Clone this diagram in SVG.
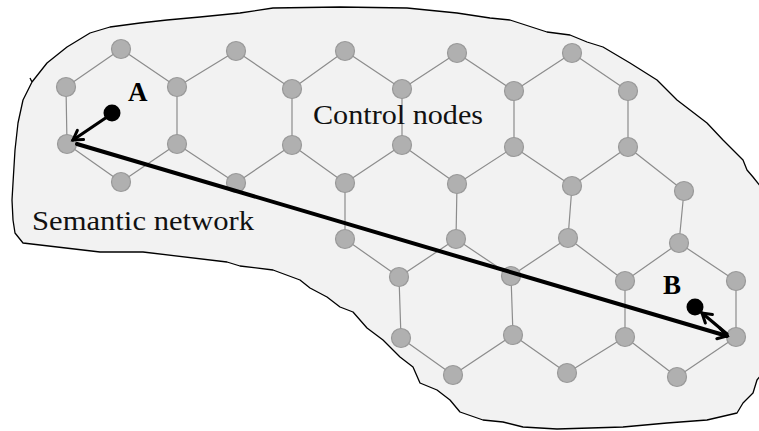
<svg xmlns="http://www.w3.org/2000/svg" width="759" height="431" viewBox="0 0 759 431">
<defs>
<style>
.blob{fill:#f2f2f2;stroke:#000;stroke-width:1.3;stroke-linejoin:round}
.e{stroke:#8c8c8c;stroke-width:1.2;fill:none}
.n{fill:#b0b0b0;stroke:#999;stroke-width:1.2}
.dot{fill:#000}
.arr{stroke:#000;fill:none;stroke-linecap:round}
.lbl{font-family:"Liberation Serif","DejaVu Serif",serif;fill:#111}
.bold{font-family:"Liberation Serif","DejaVu Serif",serif;font-weight:bold;fill:#000}
</style>
<marker id="ah" markerUnits="userSpaceOnUse" viewBox="-12 -8 14 16" markerWidth="14" markerHeight="16" refX="0" refY="0" orient="auto" overflow="visible">
<path d="M -9 -5.5 L 0 0 L -9 5.5" fill="none" stroke="#000" stroke-width="3" stroke-linecap="round" stroke-linejoin="miter"/>
</marker>
</defs>
<rect width="759" height="431" fill="#fff"/>
<g id="region">
<path class="blob" d="M 32 82 L 30 78 M 32 82 L 47 63 L 67 47 L 90 33 L 110 27 L 140 23 L 167 20 L 200 17 L 240 13 L 273 8 L 340 7 L 407 8 L 457 13 L 490 18 L 510 20 L 547 32 L 570 35 L 587 42 L 603 47 L 630 63 L 657 80 L 677 100 L 707 123 L 723 140 L 743 160 L 747 170 L 753 177 L 765 192 L 765 370 L 757 380 L 753 393 L 743 403 L 737 413 L 707 420 L 667 423 L 623 427 L 557 429 L 523 427 L 503 422 L 483 420 L 460 412 L 450 400 L 437 390 L 420 383 L 413 367 L 400 357 L 383 340 L 367 328 L 353 312 L 340 307 L 327 297 L 310 288 L 300 280 L 273 270 L 240 266 L 227 262 L 143 252 L 100 252 L 23 243 L 15 233 L 13 220 L 12 200 L 13 183 L 15 150 L 18 123 L 23 100 Z"/>
</g>
<g id="edges">
<path class="e" d="M121 49 L66 87 M121 49 L177 87 M66 87 L67 144 M177 87 L177 144 M67 144 L121 182 M177 144 L121 182
M236 51 L177 87 M236 51 L292 89 M292 89 L292 145 M177 144 L236 183 M292 145 L236 183
M345 51 L292 89 M345 51 L402 89 M402 89 L402 145 M292 145 L345 183 M402 145 L345 183
M457 53 L402 89 M457 53 L514 91 M514 91 L514 147 M402 145 L457 184 M514 147 L457 184
M572 53 L514 91 M572 53 L628 91 M628 91 L628 147 M514 147 L572 186 M628 147 L572 186
M628 147 L684 191
M345 183 L345 239 M457 184 L456 239 M572 186 L568 238 M684 191 L679 243
M345 239 L399 277 M456 239 L399 277 M456 239 L511 276 M568 238 L511 276 M568 238 L625 281 M679 243 L625 281 M679 243 L736 281
M399 277 L401 338 M511 276 L513 335 M625 281 L625 337 M736 281 L736 337
M401 338 L453 375 M453 375 L513 335 M513 335 L567 373 M567 373 L625 337 M625 337 L677 377 M677 377 L736 337"/>
</g>
<g id="nodes">
<circle id="n-a1" class="n" cx="121" cy="49" r="9.5"/>
<circle id="n-a2" class="n" cx="236" cy="51" r="9.5"/>
<circle id="n-a3" class="n" cx="345" cy="51" r="9.5"/>
<circle id="n-a4" class="n" cx="457" cy="53" r="9.5"/>
<circle id="n-a5" class="n" cx="572" cy="53" r="9.5"/>
<circle id="n-b0" class="n" cx="66" cy="87" r="9.5"/>
<circle id="n-b1" class="n" cx="177" cy="87" r="9.5"/>
<circle id="n-b2" class="n" cx="292" cy="89" r="9.5"/>
<circle id="n-b3" class="n" cx="402" cy="89" r="9.5"/>
<circle id="n-b4" class="n" cx="514" cy="91" r="9.5"/>
<circle id="n-b5" class="n" cx="628" cy="91" r="9.5"/>
<circle id="n-c0" class="n" cx="67" cy="144" r="9.5"/>
<circle id="n-c1" class="n" cx="177" cy="144" r="9.5"/>
<circle id="n-c2" class="n" cx="292" cy="145" r="9.5"/>
<circle id="n-c3" class="n" cx="402" cy="145" r="9.5"/>
<circle id="n-c4" class="n" cx="514" cy="147" r="9.5"/>
<circle id="n-c5" class="n" cx="628" cy="147" r="9.5"/>
<circle id="n-d1" class="n" cx="121" cy="182" r="9.5"/>
<circle id="n-d2" class="n" cx="236" cy="183" r="9.5"/>
<circle id="n-d3" class="n" cx="345" cy="183" r="9.5"/>
<circle id="n-d4" class="n" cx="457" cy="184" r="9.5"/>
<circle id="n-d5" class="n" cx="572" cy="186" r="9.5"/>
<circle id="n-d6" class="n" cx="684" cy="191" r="9.5"/>
<circle id="n-e3" class="n" cx="345" cy="239" r="9.5"/>
<circle id="n-e4" class="n" cx="456" cy="239" r="9.5"/>
<circle id="n-e5" class="n" cx="568" cy="238" r="9.5"/>
<circle id="n-e6" class="n" cx="679" cy="243" r="9.5"/>
<circle id="n-f3" class="n" cx="399" cy="277" r="9.5"/>
<circle id="n-f4" class="n" cx="511" cy="276" r="9.5"/>
<circle id="n-f5" class="n" cx="625" cy="281" r="9.5"/>
<circle id="n-f6" class="n" cx="736" cy="281" r="9.5"/>
<circle id="n-g3" class="n" cx="401" cy="338" r="9.5"/>
<circle id="n-g4" class="n" cx="513" cy="335" r="9.5"/>
<circle id="n-g5" class="n" cx="625" cy="337" r="9.5"/>
<circle id="n-g6" class="n" cx="736" cy="337" r="9.5"/>
<circle id="n-h3" class="n" cx="453" cy="375" r="9.5"/>
<circle id="n-h4" class="n" cx="567" cy="373" r="9.5"/>
<circle id="n-h5" class="n" cx="677" cy="377" r="9.5"/>
</g>
<g id="node-A">
<circle class="dot" cx="112" cy="113" r="8.5"/>
<text class="bold" x="128" y="101" font-size="27">A</text>
</g>
<g id="node-B">
<circle class="dot" cx="695" cy="307" r="8.5"/>
<text class="bold" x="663" y="294" font-size="27">B</text>
</g>
<g id="connectors">
<line class="arr" x1="110" y1="115" x2="73" y2="140" stroke-width="3.2" marker-end="url(#ah)"/>
<line class="arr" x1="77" y1="144" x2="727" y2="336" stroke-width="4" marker-end="url(#ah)"/>
<line class="arr" x1="727" y1="334" x2="702" y2="313" stroke-width="3.2" marker-end="url(#ah)"/>
</g>
<g id="labels">
<text class="lbl" x="313" y="124" font-size="28" textLength="170" lengthAdjust="spacingAndGlyphs">Control nodes</text>
<text class="lbl" x="32" y="230" font-size="28" textLength="222" lengthAdjust="spacingAndGlyphs">Semantic network</text>
</g>
</svg>
